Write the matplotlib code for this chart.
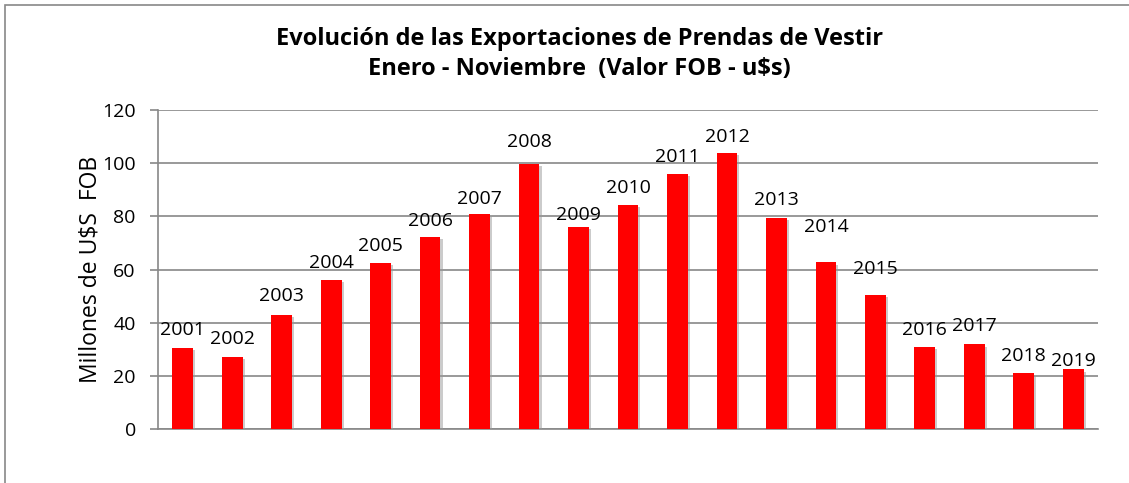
# Exportaciones de prendas de vestir, Enero - Noviembre 2001-2019
import matplotlib.pyplot as plt
import matplotlib.patheffects as pe
from matplotlib.patches import Rectangle

# ------------------------------
# Data (millones de U$S FOB)
# ------------------------------
years = ["2001", "2002", "2003", "2004", "2005", "2006", "2007", "2008", "2009", "2010",
         "2011", "2012", "2013", "2014", "2015", "2016", "2017", "2018", "2019"]
valores = [30.4, 27.3, 43.0, 56.1, 62.5, 72.2, 81.0, 99.6, 76.0, 84.2,
           95.8, 103.8, 79.5, 62.7, 50.5, 31.0, 31.9, 21.0, 22.5]

# label distance above bar top (pixels), some were moved by hand in the original
label_gap = [18, 18, 19, 17, 17, 16, 15, 22, 12, 17, 17, 16, 18, 35, 26, 17, 18, 17, 8]

plt.rcParams['font.family'] = ['Open Sans', 'DejaVu Sans']
GREY = "#888888"

W, H = 1129, 483
fig = plt.figure(figsize=(W / 100, H / 100), dpi=100)
ax = fig.add_axes([158 / W, 1 - 429.3 / H, 940 / W, 319.3 / H])

x = list(range(len(years)))
bars = ax.bar(x, valores, width=0.42, color="#ff0000", zorder=3)
for b in bars:
    b.set_path_effects([pe.SimplePatchShadow(offset=(1.5, -1.5), shadow_rgbFace="#999999", alpha=0.5),
                        pe.Normal()])

for i, (yr, v) in enumerate(zip(years, valores)):
    ax.annotate(yr, (i, v), xytext=(0, label_gap[i]), textcoords="offset pixels",
                ha="center", va="center", fontsize=14, color="black", zorder=4)

ax.set_xlim(-0.5, len(years) - 0.5)
ax.set_ylim(0, 120)
ax.set_yticks(range(0, 121, 20))
ax.set_xticks([])
ax.yaxis.grid(True, color=GREY, linewidth=1.2, zorder=0)
ax.set_axisbelow(True)
for s in ["top", "right"]:
    ax.spines[s].set_visible(False)
ax.spines["left"].set_color(GREY)
ax.spines["bottom"].set_color(GREY)
ax.spines["left"].set_linewidth(1.2)
ax.spines["bottom"].set_linewidth(1.2)
ax.tick_params(axis="y", length=6, width=1.2, color=GREY, labelsize=14, pad=10)
ax.set_ylabel("Millones de U$S  FOB", fontsize=16.5, labelpad=0)

fig.text(579.5 / W, 1 - 54 / H,
         "Evolución de las Exportaciones de Prendas de Vestir\nEnero - Noviembre  (Valor FOB - u$s)",
         ha="center", va="center", fontsize=17, fontweight="bold", linespacing=1.3)

# outer chart border (only left and top are inside the picture)
fig.add_artist(Rectangle((5 / W, -0.1), 1.2, 1 - 5 / H + 0.1, transform=fig.transFigure,
                         fill=False, edgecolor=GREY, linewidth=1.2, clip_on=False))

fig.savefig("out.png", dpi=100)
